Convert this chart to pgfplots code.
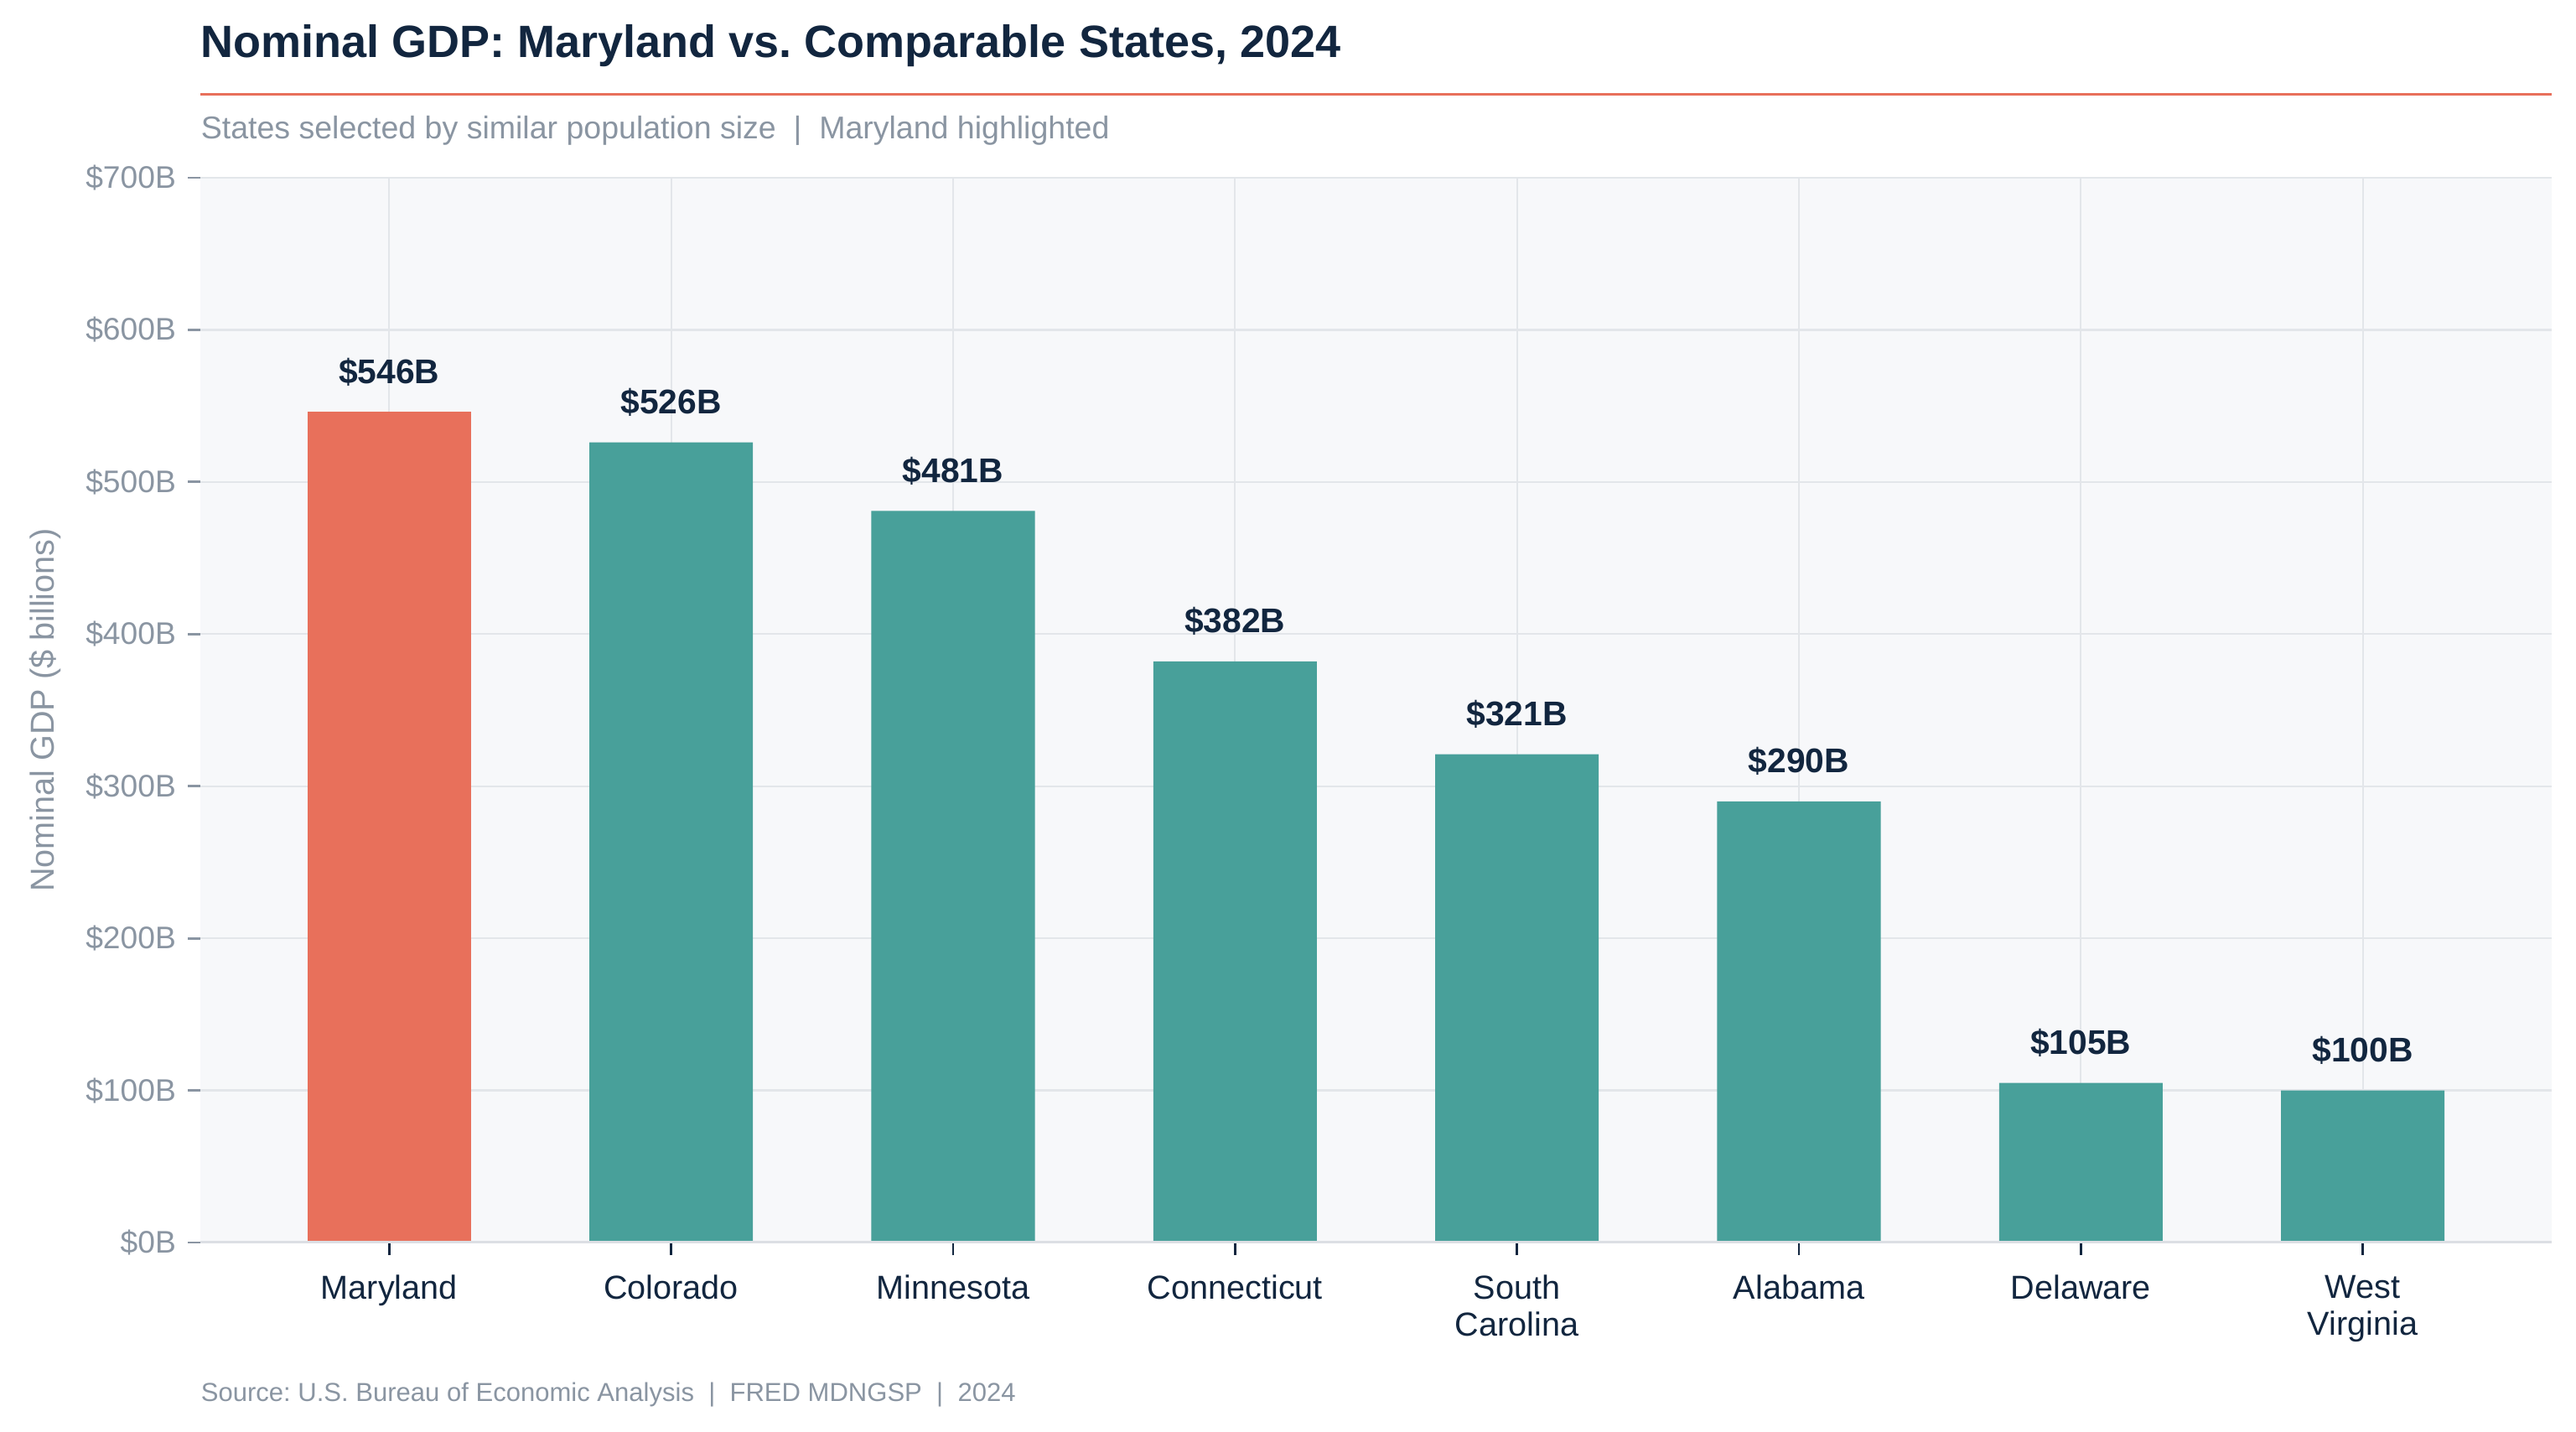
\documentclass[border=0pt]{standalone}
\usepackage{pgfplots}
\pgfplotsset{compat=1.18}
\usepackage{fontspec}
\setmainfont{Liberation Sans}
\frenchspacing
\definecolor{navy}{HTML}{12263F}
\definecolor{txtgray}{HTML}{8A95A2}
\definecolor{barteal}{HTML}{48A09A}
\definecolor{coral}{HTML}{E8705B}
\definecolor{gridgray}{HTML}{E3E6EA}
\definecolor{basegray}{HTML}{DCDFE4}
\definecolor{bgpanel}{HTML}{F7F8FA}
\begin{document}
\frenchspacing
\begin{tikzpicture}
\path[fill=white] (0,0) rectangle (768.25pt,426.75pt);
\begin{axis}[
  at={(59.75pt,56.25pt)}, anchor=south west,
  width=701.25pt, height=317.5pt, scale only axis,
  xmin=-0.67, xmax=7.67, ymin=0, ymax=700,
  xtick={0,1,2,3,4,5,6,7},
  xticklabels={Maryland,Colorado,Minnesota,Connecticut,{South\\Carolina},Alabama,Delaware,{West\\Virginia}},
  ytick={0,100,200,300,400,500,600,700},
  yticklabels={\$0B,\$100B,\$200B,\$300B,\$400B,\$500B,\$600B,\$700B},
  tick pos=left, tick align=outside, major tick length=3.75pt,
  xtick style={draw=navy, line width=0.7pt},
  ytick style={draw=txtgray, line width=0.7pt},
  xticklabel style={font=\fontsize{9.9}{11}\selectfont, text=navy, align=center, yshift=-2.5pt},
  yticklabel style={font=\fontsize{9.3}{11}\selectfont, text=txtgray},
  axis line style={draw=none},
  axis background/.style={fill=bgpanel},
  xmajorgrids, ymajorgrids,
  x grid style={gridgray, line width=0.45pt},
  y grid style={gridgray, line width=0.6pt},
  ylabel={Nominal GDP (\$ billions)},
  ylabel style={at={(axis description cs:-0.066,0.5)}, anchor=center, font=\fontsize{9.9}{11}\selectfont, text=txtgray},
  ybar, bar width=0.58,
  nodes near coords, point meta=explicit symbolic,
  every node near coord/.append style={font=\bfseries\fontsize{10.2}{12}\selectfont, text=navy, anchor=base, yshift=8.5pt},
]
\addplot[fill=coral, draw=none, bar shift=0pt] coordinates {(0,546)[\$546B]};
\addplot[fill=barteal, draw=none, bar shift=0pt] coordinates {
  (1,526)[\$526B] (2,481)[\$481B] (3,382)[\$382B] (4,321)[\$321B]
  (5,290)[\$290B] (6,105)[\$105B] (7,100)[\$100B]};
\draw[basegray, line width=0.8pt] (rel axis cs:0,0) -- (rel axis cs:1,0);
\end{axis}
\node[anchor=base west, inner sep=0, font=\bfseries\fontsize{13.5}{16}\selectfont, text=navy] at (59.75pt,409.5pt) {Nominal GDP: Maryland vs.\ Comparable States, 2024};
\draw[coral, line width=0.75pt] (59.75pt,398.5pt) -- (761pt,398.5pt);
\node[anchor=base west, inner sep=0, font=\fontsize{9.38}{11}\selectfont, text=txtgray] at (59.75pt,385.25pt) {States selected by similar population size\ \ |\ \ Maryland highlighted};
\node[anchor=base west, inner sep=0, font=\fontsize{7.76}{9}\selectfont, text=txtgray] at (59.75pt,9pt) {Source:\ U.S.\ Bureau of Economic Analysis\ \ |\ \ FRED MDNGSP\ \ |\ \ 2024};
\end{tikzpicture}
\end{document}
